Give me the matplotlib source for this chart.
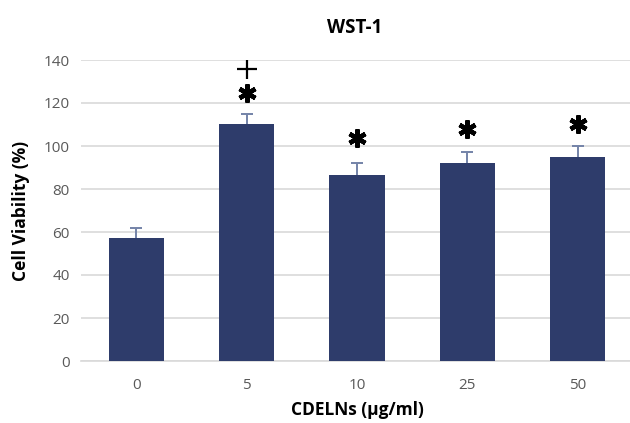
import matplotlib.pyplot as plt
import numpy as np

plt.rcParams['font.family'] = ['Open Sans', 'DejaVu Sans']

doses = ['0', '5', '10', '25', '50']
viability = [57, 110, 86.5, 92, 95]
err = [5, 5, 5.5, 5, 5]
star_y = [np.nan, 124.5, 103.5, 108, 110]
plus_y = [np.nan, 136, np.nan, np.nan, np.nan]

bar_color = '#2E3C6B'
err_color = '#7483A8'

fig = plt.figure(figsize=(6.3, 4.23), dpi=100)
ax = fig.add_axes([81/630, 1 - 361/423, 552/630, 301/423])

x = np.arange(len(doses))
vals = np.array(viability)
tops = vals + np.array(err)
ax.bar(x, vals, width=0.5, color=bar_color, zorder=3)
# upper error bars only
ax.vlines(x, vals, tops, color=err_color, linewidth=1.4, zorder=4)
ax.plot(x, tops, linestyle='none', marker='_', ms=8, mew=1.4, color=err_color, zorder=4)

# significance marks
ax.plot(x, star_y, linestyle='none', marker=(6, 2, 0), ms=13, mew=3.2, color='black')
ax.plot(x, plus_y, linestyle='none', marker='+', ms=14, mew=1.6, color='black')

ax.set_xlim(-0.5, 4.5)
ax.set_ylim(0, 140)
ax.set_yticks(np.arange(0, 141, 20))
ax.set_xticks(x)
ax.set_xticklabels(doses)
ax.yaxis.grid(True, color='#D9D9D9', linewidth=1.2, zorder=0)
ax.set_axisbelow(True)
for s in ['top', 'right', 'left']:
    ax.spines[s].set_visible(False)
ax.spines['bottom'].set_color('#D9D9D9')
ax.spines['bottom'].set_linewidth(1.2)
ax.tick_params(axis='both', length=0, labelsize=11, labelcolor='#595959')
ax.tick_params(axis='x', pad=12)
ax.tick_params(axis='y', pad=8)

ax.set_ylabel('Cell Viability (%)', fontsize=12.5, fontweight='bold', labelpad=10)
ax.set_xlabel('CDELNs (μg/ml)', fontsize=12.5, fontweight='bold', labelpad=6)
fig.text(355/630, 1 - 28/423, 'WST-1', ha='center', va='center', fontsize=13.5,
         fontweight='bold')

fig.savefig('out.png', dpi=100)
